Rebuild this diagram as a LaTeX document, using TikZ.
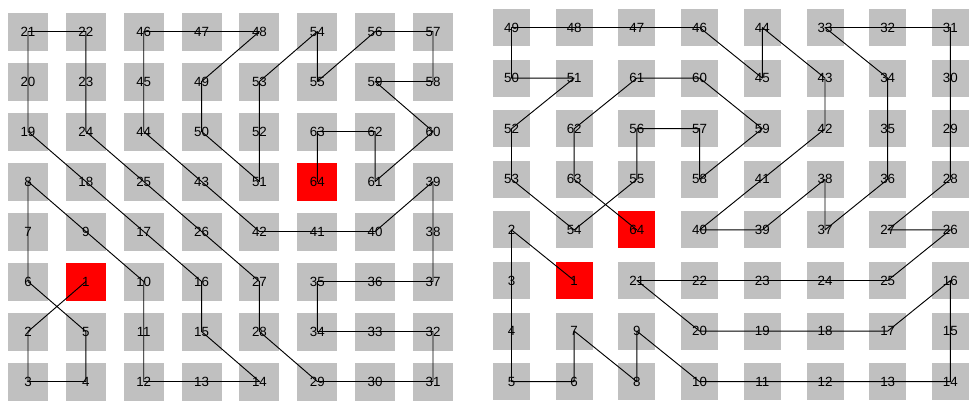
\documentclass[tikz,border=0pt]{standalone}
\usepackage{fontspec}
\setmainfont{Liberation Sans}
\usepackage{tikz}
\definecolor{cellgray}{RGB}{192,192,192}

\begin{document}
\begin{tikzpicture}[x=0.75pt,y=-0.75pt,line cap=round,line join=round,
    cell/.style={fill=\cellfill,inner sep=0pt,font=\fontsize{10}{11}\selectfont},
    tour/.style={line width=0.7pt}]
  \useasboundingbox (0,0) rectangle (979,412);

  % left board
  \foreach \row [count=\r] in {{21,22,46,47,48,54,56,57},{20,23,45,49,53,55,59,58},
      {19,24,44,50,52,63,62,60},{8,18,25,43,51,64,61,39},{7,9,17,26,42,41,40,38},
      {6,1,10,16,27,35,36,37},{2,5,11,15,28,34,33,32},{3,4,12,13,14,29,30,31}} {
    \foreach \n [count=\c] in \row {
      \ifnum\n=1 \def\cellfill{red}\else\ifnum\n=64 \def\cellfill{red}\else\def\cellfill{cellgray}\fi\fi
      \node[cell,minimum width=30pt,minimum height=28.5pt] (L\n)
        at ({28+57.86*(\c-1)},{31.5+50*(\r-1)}) {\n};
    }
  }

  % right board
  \foreach \row [count=\r] in {{49,48,47,46,44,33,32,31},{50,51,61,60,45,43,34,30},
      {52,62,56,57,59,42,35,29},{53,63,55,58,41,38,36,28},{2,54,64,40,39,37,27,26},
      {3,1,21,22,23,24,25,16},{4,7,9,20,19,18,17,15},{5,6,8,10,11,12,13,14}} {
    \foreach \n [count=\c] in \row {
      \ifnum\n=1 \def\cellfill{red}\else\ifnum\n=64 \def\cellfill{red}\else\def\cellfill{cellgray}\fi\fi
      \node[cell,minimum width=27.75pt,minimum height=27.75pt] (R\n)
        at ({511.5+62.7*(\c-1)},{27.5+50.6*(\r-1)}) {\n};
    }
  }

  % the two tours
  \draw[tour] (L1.center) \foreach \i in {2,...,64} {-- (L\i.center)};
  \draw[tour] (R1.center) \foreach \i in {2,...,64} {-- (R\i.center)};
\end{tikzpicture}
\end{document}
